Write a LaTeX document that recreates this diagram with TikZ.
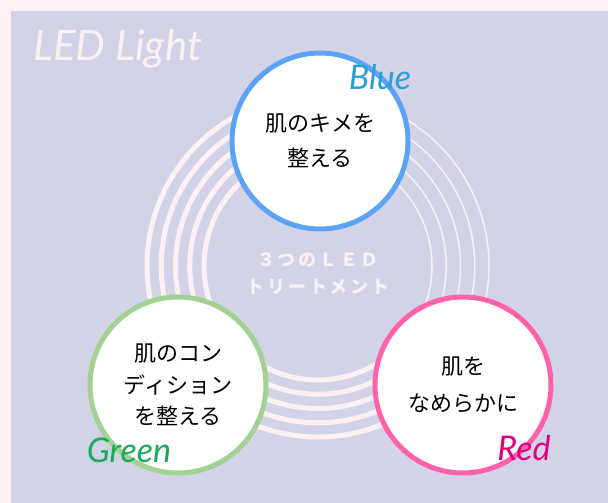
\documentclass[tikz,border=0pt]{standalone}
\usepackage{fontspec}
\usepackage{xcolor}
\newfontfamily\jpfont{Noto Sans CJK JP}
\newfontfamily\jpwide{Noto Sans CJK JP}[LetterSpace=15]
\newfontfamily\handfont{Lato}
\definecolor{edgepink}{HTML}{FDF1F4}
\definecolor{lavender}{HTML}{D3D3E8}
\definecolor{ringpink}{HTML}{FCF0F3}
\definecolor{blueline}{HTML}{5BA3F7}
\definecolor{greenline}{HTML}{A3D193}
\definecolor{redline}{HTML}{FF62A9}
\definecolor{bluetext}{HTML}{2A9FDA}
\definecolor{greentext}{HTML}{1BA95A}
\definecolor{redtext}{HTML}{E3007F}

\begin{document}
\begin{tikzpicture}[x=1pt,y=1pt]
\tikzstyle{every node}+=[inner sep=0pt]
\tikzstyle{bubble}=[circle, fill=white, line width=5pt, minimum size=176pt, align=center, font=\jpfont\fontsize{22}{35}\selectfont]
\tikzstyle{tag}=[font=\handfont\itshape\fontsize{34}{34}\selectfont]
\useasboundingbox (0,0) rectangle (608,-503);
\fill [edgepink] (0,0) rectangle (608,-503);
\fill [lavender] (11,-11) rectangle (608,-503);
\node (heading) [anchor=west, text=ringpink, font=\handfont\itshape\fontsize{42}{42}\selectfont] at (33,-49) {LED Light};
\coordinate (hub) at (318,-266);
\foreach \r in {114,128.25,142.5,156.75,171} {
\draw [ringpink, line width=5pt] ([shift={(90:\r pt)}]hub) arc (90:320:\r pt);
\draw [ringpink, line width=1.5pt] ([shift={(-40:\r pt)}]hub) arc (-40:90:\r pt);
}
\node (title) [text=ringpink, align=center, font=\jpwide\bfseries\fontsize{18}{27}\selectfont] at (318,-274) {３つのＬＥＤ\\トリートメント};
\node (blue) [bubble, draw=blueline] at (320,-141) {肌のキメを\\整える};
\node (green) [bubble, draw=greenline, font=\jpfont\fontsize{22}{31.5}\selectfont] at (178,-385) {肌のコン\\ディション\\を整える};
\node (red) [bubble, draw=redline, font=\jpfont\fontsize{22}{37}\selectfont] at (463,-385) {肌を\\なめらかに};
\node (bluetag) [tag, text=bluetext] at (380,-77) {Blue};
\node (greentag) [tag, text=greentext] at (129,-450) {Green};
\node (redtag) [tag, text=redtext] at (524,-448) {Red};
\end{tikzpicture}
\end{document}
